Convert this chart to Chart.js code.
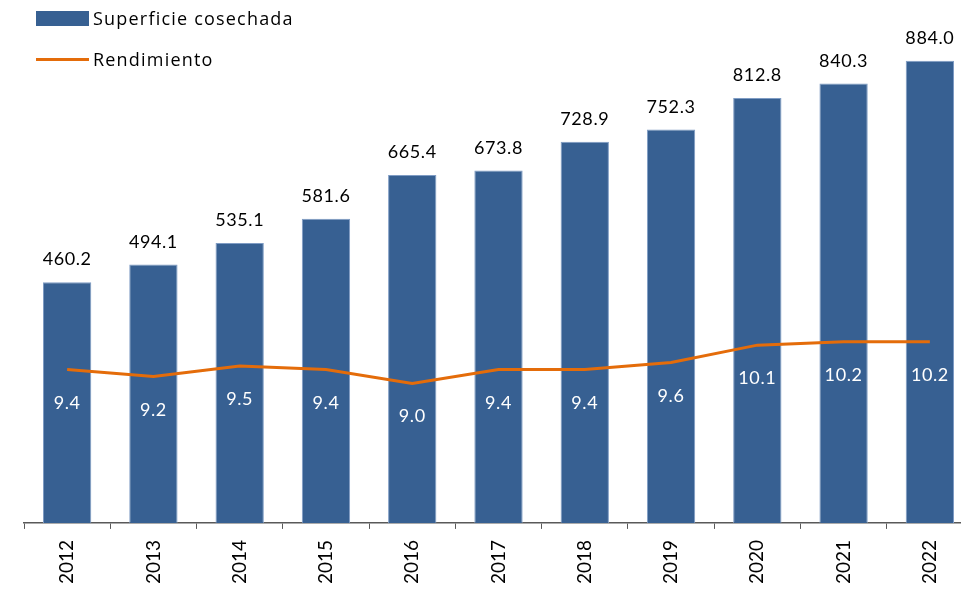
<!DOCTYPE html>
<html>
<head>
<meta charset="utf-8">
<script src="https://cdn.jsdelivr.net/npm/chart.js@4"></script>
<style>
  html, body { margin: 0; padding: 0; background: #fff; overflow: hidden; }
  #caja { position: relative; width: 975px; height: 596px; }
  #leyenda { position: absolute; left: 36px; top: 7px; font-family: "Open Sans", sans-serif; font-size: 18px; letter-spacing: 1.2px; color: #000; }
  .item { display: flex; align-items: center; height: 22px; margin-bottom: 19px; }
  .muestra { width: 53px; margin-right: 4px; }
</style>
</head>
<body>
<div id="caja">
  <canvas id="diagram" width="975" height="596"></canvas>
  <div id="leyenda"></div>
</div>
<script>
const anios = ["2012", "2013", "2014", "2015", "2016", "2017", "2018", "2019", "2020", "2021", "2022"];
const superficie = [460.2, 494.1, 535.1, 581.6, 665.4, 673.8, 728.9, 752.3, 812.8, 840.3, 884.0];
const rendimiento = [9.4, 9.2, 9.5, 9.4, 9.0, 9.4, 9.4, 9.6, 10.1, 10.2, 10.2];

const azul = "#376092";
const naranja = "#E46C0A";

// etiquetas de valores dibujadas a mano (no hay plugin datalabels)
const etiquetas = {
  id: "etiquetas",
  afterDatasetsDraw(chart) {
    const ctx = chart.ctx;
    ctx.save();
    ctx.font = "18px Lato, sans-serif";
    ctx.letterSpacing = "0.6px";
    ctx.textAlign = "center";
    ctx.textBaseline = "alphabetic";
    chart.getDatasetMeta(0).data.forEach((barra, i) => {
      ctx.fillStyle = "#000";
      ctx.fillText(superficie[i].toFixed(1), barra.x, barra.y - 17);
    });
    chart.getDatasetMeta(1).data.forEach((punto, i) => {
      ctx.fillStyle = "#fff";
      ctx.fillText(rendimiento[i].toFixed(1), punto.x, punto.y + 39);
    });
    ctx.restore();
  }
};

const chart = new Chart(document.getElementById("diagram"), {
  type: "bar",
  data: {
    labels: anios,
    datasets: [{
      label: "Superficie cosechada",
      data: superficie,
      backgroundColor: azul,
      borderColor: "#7f9cc4",
      borderWidth: 1,
      barPercentage: 0.56,
      categoryPercentage: 1,
      yAxisID: "y",
      order: 2
    }, {
      type: "line",
      label: "Rendimiento",
      data: rendimiento,
      borderColor: naranja,
      borderWidth: 3,
      pointRadius: 0,
      fill: false,
      tension: 0,
      yAxisID: "y2",
      order: 1
    }]
  },
  options: {
    responsive: false,
    animation: false,
    layout: { padding: { left: 24, right: 2, top: 0, bottom: 1 } },
    plugins: {
      legend: { display: false },
      tooltip: { enabled: false }
    },
    scales: {
      x: {
        grid: { display: true, drawOnChartArea: false, offset: true, tickLength: 6, color: "#595959" },
        border: { color: "#595959", width: 1.5 },
        ticks: {
          minRotation: 90,
          maxRotation: 90,
          color: "#000",
          padding: 11,
          font: { family: "Lato, sans-serif", size: 19 }
        }
      },
      y: { display: false, min: 0, max: 1000 },
      y2: { display: false, min: 5, max: 20 }
    }
  },
  plugins: [etiquetas]
});

// leyenda en HTML
const leyenda = document.getElementById("leyenda");
chart.data.datasets.forEach(ds => {
  const item = document.createElement("div");
  item.className = "item";
  const m = document.createElement("div");
  m.className = "muestra";
  if (ds.type === "line") {
    m.style.height = "3px";
    m.style.background = ds.borderColor;
  } else {
    m.style.height = "15px";
    m.style.background = ds.backgroundColor;
  }
  const t = document.createElement("span");
  t.textContent = ds.label;
  item.appendChild(m);
  item.appendChild(t);
  leyenda.appendChild(item);
});
</script>
</body>
</html>
